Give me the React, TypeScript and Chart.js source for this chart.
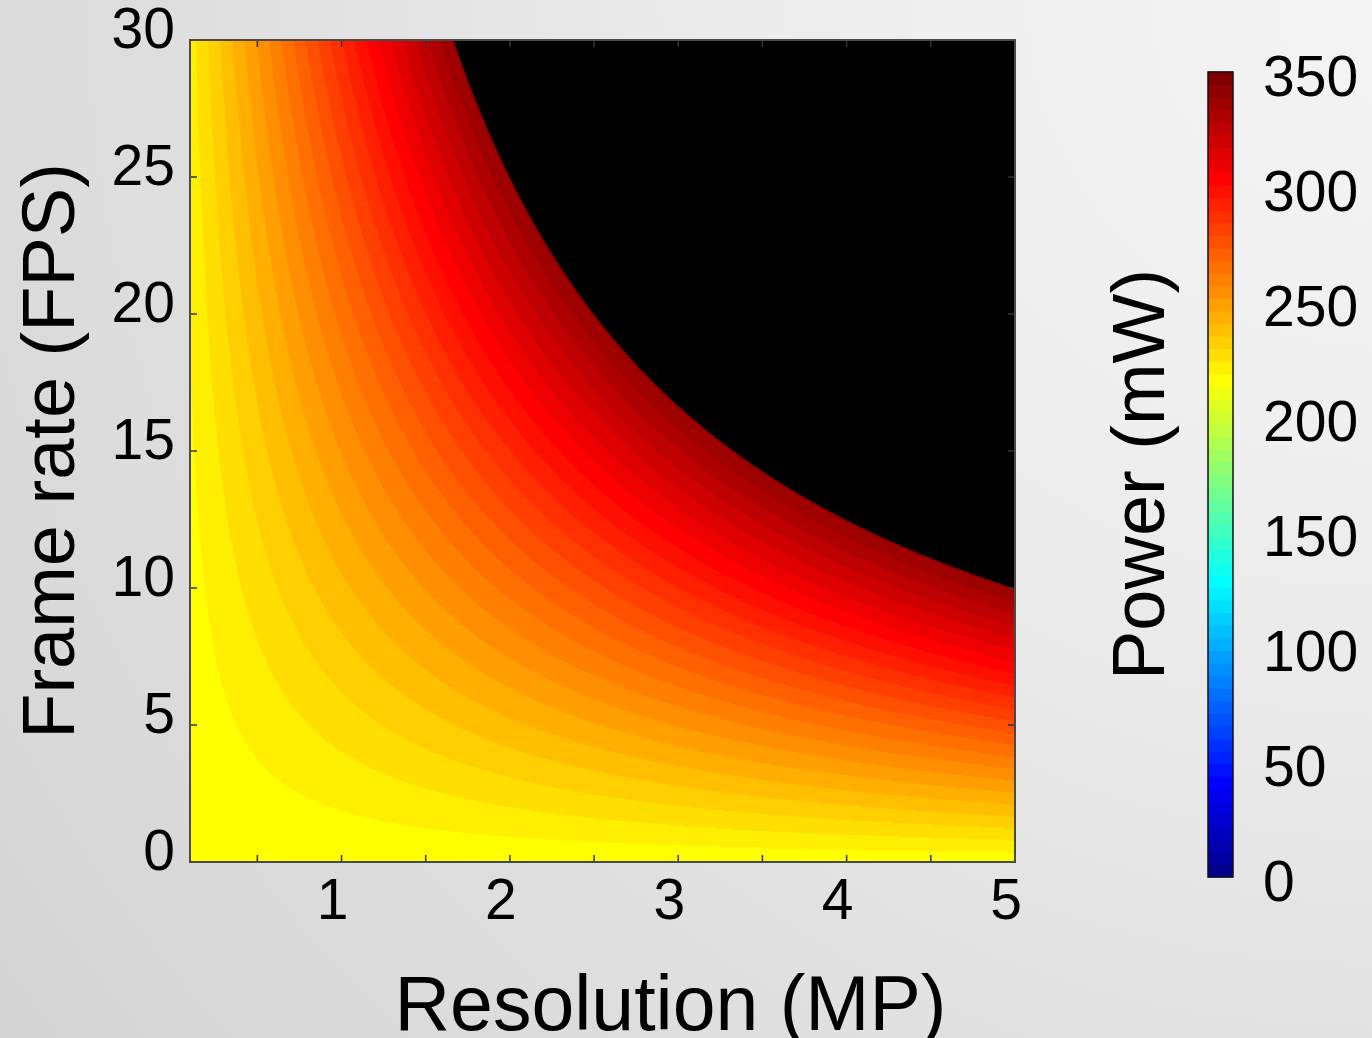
import React, { useEffect, useRef } from "react";
import { Chart, registerables } from "chart.js";

Chart.register(...registerables);

// ---- data ----
const resolutionRange = [0.1, 5]; // MP
const frameRateRange = [0, 30]; // FPS
const resolutionTicks = [0.5, 1, 1.5, 2, 2.5, 3, 3.5, 4, 4.5, 5];
const resolutionTickLabels = ["", "1", "", "2", "", "3", "", "4", "", "5"];
const frameRateTicks = [0, 5, 10, 15, 20, 25, 30];
const powerTicks = [0, 50, 100, 150, 200, 250, 300, 350];
const powerRange = [0, 350]; // mW, colour scale
// power model: P = idle + k * MP * FPS, black above budget
const idlePowerMw = 214;
const powerPerMegapixelFrame = 2.52;
const powerBudgetMw = 340;
const colormapLevels = 64;

const xTitle = "Resolution (MP)";
const yTitle = "Frame rate (FPS)";
const cbTitle = "Power (mW)";

const FONT = '"Liberation Sans", Arial, sans-serif';
Chart.defaults.font.family = FONT;
Chart.defaults.color = "#000";

// sample grid for the filled contour
const resolutionStep = 0.002;
const frameRateStep = 0.04;
function edges(min: number, max: number, step: number) {
  const n = Math.round((max - min) / step);
  return Array.from({ length: n + 1 }, (_, i) => min + i * step);
}
const resolutionEdges = edges(resolutionRange[0], resolutionRange[1], resolutionStep);
const frameRateEdges = edges(frameRateRange[0], frameRateRange[1], frameRateStep);

function powerAt(res: number, fps: number) {
  return idlePowerMw + powerPerMegapixelFrame * res * fps;
}

// MATLAB jet(64)
function jet(i: number): string {
  const k = i + 1;
  const u = (t: number) =>
    t < 1 ? 0 : t <= 16 ? t / 16 : t <= 31 ? 1 : t <= 47 ? (48 - t) / 16 : 0;
  const r = Math.round(u(k - 24) * 255);
  const g = Math.round(u(k - 8) * 255);
  const b = Math.round(u(k + 8) * 255);
  return `rgb(${r},${g},${b})`;
}
const jetColors = Array.from({ length: colormapLevels }, (_, i) => jet(i));

function colorFor(v: number): string {
  if (v > powerBudgetMw) return "#000000";
  let idx = Math.floor(((v - powerRange[0]) / (powerRange[1] - powerRange[0])) * colormapLevels);
  idx = Math.max(0, Math.min(colormapLevels - 1, idx));
  return jetColors[idx];
}

const heatmapPlugin = {
  id: "heatmap",
  beforeDatasetsDraw(chart: any) {
    const { ctx, chartArea, scales } = chart;
    const xs = scales.x;
    const ys = scales.y;
    ctx.save();
    ctx.beginPath();
    ctx.rect(chartArea.left, chartArea.top, chartArea.right - chartArea.left, chartArea.bottom - chartArea.top);
    ctx.clip();
    for (let j = 0; j < frameRateEdges.length - 1; j++) {
      const f0 = frameRateEdges[j];
      const f1 = frameRateEdges[j + 1];
      const fc = (f0 + f1) / 2;
      const yBot = ys.getPixelForValue(f0);
      const yTop = ys.getPixelForValue(f1);
      let runStart = 0;
      let runColor = colorFor(powerAt((resolutionEdges[0] + resolutionEdges[1]) / 2, fc));
      const n = resolutionEdges.length - 1;
      for (let i = 1; i <= n; i++) {
        const c = i < n ? colorFor(powerAt((resolutionEdges[i] + resolutionEdges[i + 1]) / 2, fc)) : null;
        if (c !== runColor) {
          const x0 = xs.getPixelForValue(resolutionEdges[runStart]);
          const x1 = xs.getPixelForValue(resolutionEdges[i]);
          ctx.fillStyle = runColor;
          ctx.fillRect(x0, yTop - 0.6, x1 - x0 + 0.6, yBot - yTop + 1.2);
          runStart = i;
          runColor = c as string;
        }
      }
    }
    ctx.restore();
  },
  afterDraw(chart: any) {
    const { ctx, chartArea, scales } = chart;
    const { left, right, top, bottom } = chartArea;
    ctx.save();
    ctx.strokeStyle = "#333";
    ctx.lineWidth = 1.5;
    const tl = 7;
    ctx.beginPath();
    resolutionTicks.forEach((v) => {
      const px = scales.x.getPixelForValue(v);
      ctx.moveTo(px, bottom);
      ctx.lineTo(px, bottom - tl);
      ctx.moveTo(px, top);
      ctx.lineTo(px, top + tl);
    });
    frameRateTicks.forEach((v) => {
      const py = scales.y.getPixelForValue(v);
      ctx.moveTo(left, py);
      ctx.lineTo(left + tl, py);
      ctx.moveTo(right, py);
      ctx.lineTo(right - tl, py);
    });
    ctx.stroke();
    ctx.strokeStyle = "#4a4a4a";
    ctx.lineWidth = 2;
    ctx.strokeRect(left, top, right - left, bottom - top);
    // x-axis title (offset to the right as in the original figure)
    ctx.fillStyle = "#000";
    ctx.font = `77px ${FONT}`;
    ctx.textAlign = "center";
    ctx.textBaseline = "alphabetic";
    ctx.fillText(xTitle, (left + right) / 2 + 68, 1030);
    ctx.restore();
  },
};

const colorbarPlugin = {
  id: "colorbar",
  beforeDatasetsDraw(chart: any) {
    const { ctx, chartArea, scales } = chart;
    const ys = scales.y;
    const step = (powerRange[1] - powerRange[0]) / colormapLevels;
    ctx.save();
    for (let i = 0; i < colormapLevels; i++) {
      const y0 = ys.getPixelForValue(powerRange[0] + i * step);
      const y1 = ys.getPixelForValue(powerRange[0] + (i + 1) * step);
      ctx.fillStyle = jetColors[i];
      ctx.fillRect(chartArea.left, y1 - 0.5, chartArea.right - chartArea.left, y0 - y1 + 1);
    }
    ctx.strokeStyle = "#111";
    ctx.lineWidth = 1.5;
    ctx.strokeRect(chartArea.left, chartArea.top, chartArea.right - chartArea.left, chartArea.bottom - chartArea.top);
    ctx.restore();
  },
};

export default function App() {
  const mainRef = useRef<HTMLCanvasElement>(null);
  const cbRef = useRef<HTMLCanvasElement>(null);

  useEffect(() => {
    const main = new Chart(mainRef.current as HTMLCanvasElement, {
      type: "scatter",
      data: { datasets: [{ data: [], pointRadius: 0 }] },
      options: {
        responsive: false,
        animation: false,
        events: [],
        layout: { padding: { left: 0, top: 40, right: 45, bottom: 0 } },
        plugins: { legend: { display: false }, tooltip: { enabled: false } },
        scales: {
          x: {
            type: "linear",
            min: resolutionRange[0],
            max: resolutionRange[1],
            afterBuildTicks: (s: any) => {
              s.ticks = resolutionTicks.map((v) => ({ value: v }));
            },
            afterFit: (s: any) => {
              s.height = 176;
              s.paddingLeft = 0;
              s.paddingRight = 0;
            },
            ticks: {
              autoSkip: false,
              maxRotation: 0,
              padding: 7,
              labelOffset: -9,
              font: { size: 57 },
              color: "#000",
              callback: (_v: any, i: number) => resolutionTickLabels[i],
            },
            grid: { display: false, drawTicks: false },
            border: { display: false },
          },
          y: {
            type: "linear",
            min: frameRateRange[0],
            max: frameRateRange[1],
            afterBuildTicks: (s: any) => {
              s.ticks = frameRateTicks.map((v) => ({ value: v }));
            },
            afterFit: (s: any) => {
              s.width = 190;
              s.paddingTop = 0;
              s.paddingBottom = 0;
            },
            ticks: {
              autoSkip: false,
              padding: 15,
              labelOffset: -8,
              font: { size: 57 },
              color: "#000",
            },
            grid: { display: false, drawTicks: false },
            border: { display: false },
            title: {
              display: true,
              text: yTitle,
              color: "#000",
              font: { size: 74, lineHeight: 1 },
              padding: { top: 17, bottom: 0 },
            },
          },
        },
      },
      plugins: [heatmapPlugin],
    } as any);

    const cb = new Chart(cbRef.current as HTMLCanvasElement, {
      type: "scatter",
      data: { datasets: [{ data: [], pointRadius: 0, yAxisID: "y" }] },
      options: {
        responsive: false,
        animation: false,
        events: [],
        layout: { padding: { left: 0, top: 72, right: 0, bottom: 161 } },
        plugins: { legend: { display: false }, tooltip: { enabled: false } },
        scales: {
          x: { type: "linear", display: false, min: 0, max: 1 },
          y: {
            type: "linear",
            position: "right",
            min: powerRange[0],
            max: powerRange[1],
            afterBuildTicks: (s: any) => {
              s.ticks = powerTicks.map((v) => ({ value: v }));
            },
            afterFit: (s: any) => {
              s.width = 139;
              s.paddingTop = 0;
              s.paddingBottom = 0;
            },
            ticks: {
              autoSkip: false,
              padding: 30,
              labelOffset: 8,
              font: { size: 57 },
              color: "#000",
            },
            grid: { display: false, drawTicks: false },
            border: { display: false },
          },
          yTitle: {
            type: "linear",
            axis: "y",
            position: "left",
            min: powerRange[0],
            max: powerRange[1],
            afterFit: (s: any) => {
              s.width = 148;
              s.paddingTop = 0;
              s.paddingBottom = 0;
            },
            ticks: { display: false },
            grid: { display: false, drawTicks: false },
            border: { display: false },
            title: {
              display: true,
              text: cbTitle,
              color: "#000",
              font: { size: 74, lineHeight: 1 },
              padding: { top: 47, bottom: 0 },
            },
          },
        },
      },
      plugins: [colorbarPlugin],
    } as any);

    return () => {
      main.destroy();
      cb.destroy();
    };
  }, []);

  return (
    <div
      style={{
        position: "fixed",
        left: 0,
        top: 0,
        width: 1372,
        height: 1038,
        overflow: "hidden",
        background:
          "radial-gradient(circle at 100% 0%, #f4f4f4 0px, #efefef 450px, #e3e3e3 1000px, #d4d4d4 1700px)",
      }}
    >
      <canvas
        ref={mainRef}
        width={1060}
        height={1038}
        style={{ position: "absolute", left: 0, top: 0, width: 1060, height: 1038 }}
      />
      <canvas
        ref={cbRef}
        width={312}
        height={1038}
        style={{ position: "absolute", left: 1060, top: 0, width: 312, height: 1038 }}
      />
    </div>
  );
}
